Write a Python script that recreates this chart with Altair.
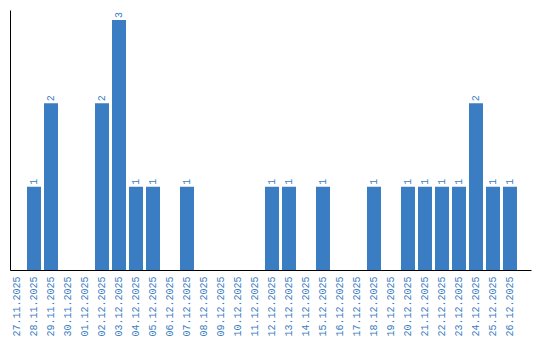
import altair as alt
import pandas as pd

dates = ["27.11.2025", "28.11.2025", "29.11.2025", "30.11.2025", "01.12.2025",
         "02.12.2025", "03.12.2025", "04.12.2025", "05.12.2025", "06.12.2025",
         "07.12.2025", "08.12.2025", "09.12.2025", "10.12.2025", "11.12.2025",
         "12.12.2025", "13.12.2025", "14.12.2025", "15.12.2025", "16.12.2025",
         "17.12.2025", "18.12.2025", "19.12.2025", "20.12.2025", "21.12.2025",
         "22.12.2025", "23.12.2025", "24.12.2025", "25.12.2025", "26.12.2025"]
counts = [0, 1, 2, 0, 0, 2, 3, 1, 1, 0,
          1, 0, 0, 0, 0, 1, 1, 0, 1, 0,
          0, 1, 0, 1, 1, 1, 1, 2, 1, 1]

df = pd.DataFrame({"date": dates, "count": counts})

BLUE = "#3a7dc2"
FONT = "Liberation Mono"

x = alt.X("date:N", sort=dates, title=None,
          scale=alt.Scale(paddingInner=0.1765, paddingOuter=0.412, align=0),
          axis=alt.Axis(labelAngle=270, labelColor=BLUE, labelFont=FONT, labelFontSize=10,
                        ticks=False, labelPadding=6, domainColor="black", domainWidth=1,
                        grid=False))
y = alt.Y("count:Q", title=None,
          scale=alt.Scale(domain=[0, 3.12], nice=False, zero=True),
          axis=alt.Axis(labels=False, ticks=False, grid=False, domainColor="black",
                        domainWidth=1))

bars = alt.Chart(df).mark_bar(color=BLUE).encode(x=x, y=y)
text = alt.Chart(df).transform_filter("datum.count > 0").mark_text(
    angle=270, align="left", baseline="middle", dx=2, color=BLUE, font=FONT, fontSize=10
).encode(x=x, y=y, text="count:Q")

chart = alt.layer(bars, text).properties(
    width=521, height=260,
    autosize=alt.AutoSizeParams(type="none"),
    padding={"left": 10, "top": 10, "right": 9, "bottom": 70},
).configure_view(stroke=None)

chart.save("out.html", embed_options={"renderer": "svg", "actions": False})
